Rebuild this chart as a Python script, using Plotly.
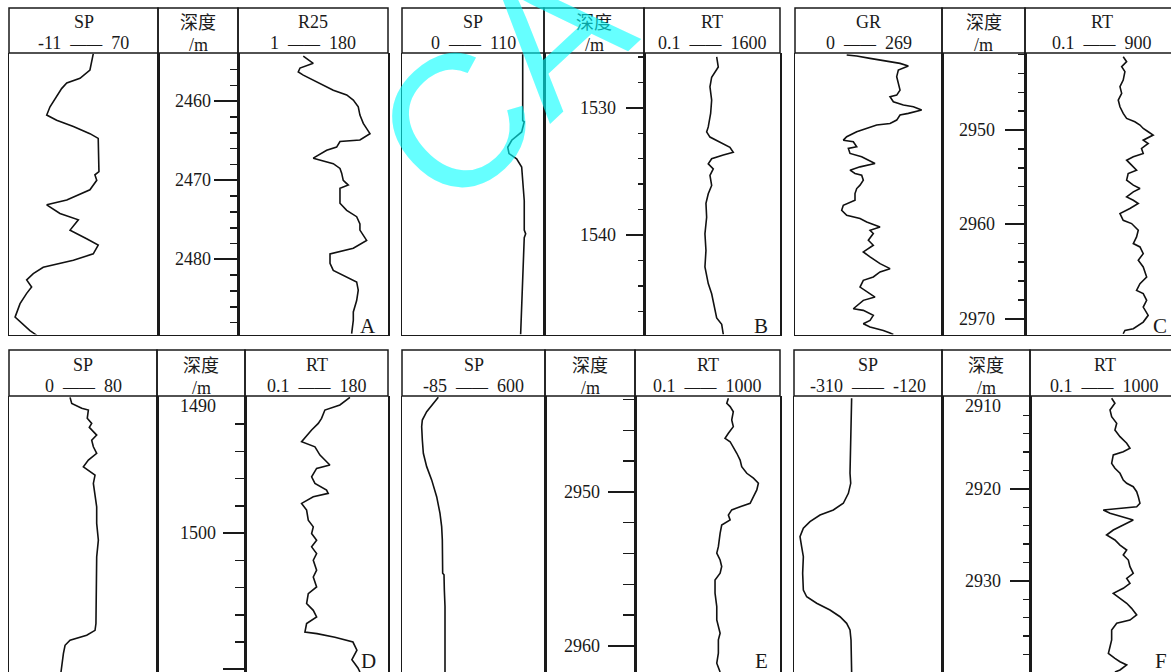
import plotly.graph_objects as go

# ---------------- data ----------------
# Panel A
A_SP_scale = (-11, 70)
A_SP_depth = [2454.0, 2456.05, 2457.1, 2457.7, 2458.4, 2459.4, 2460.7, 2461.75, 2462.4, 2463.2,
              2464.1, 2464.7, 2467.0, 2468.9, 2469.3, 2470.0, 2471.2, 2472.5, 2473.1, 2474.2,
              2475.0, 2476.3, 2477.4, 2478.2, 2479.3, 2480.1, 2481.0, 2481.8, 2482.6, 2483.5,
              2484.3, 2485.6, 2487.3, 2488.1, 2489.0, 2489.6]
A_SP = [34.8, 33.0, 27.6, 20.4, 17.6, 14.9, 11.3, 9.5, 14.9, 24.0,
        33.0, 37.5, 37.9, 37.9, 35.7, 36.7, 33.0, 20.4, 9.5, 16.7,
        26.7, 22.2, 31.2, 37.5, 34.8, 24.0, 7.6, 2.2, -1.4, 1.3,
        -1.4, -5.0, -7.7, -4.1, 0.4, 4.1]
A_R25_scale = (1, 180)
A_R25_depth = [2454.3, 2455.2, 2455.8, 2456.3, 2456.7, 2457.7, 2458.6, 2459.2, 2459.85, 2460.7,
               2461.75, 2462.8, 2464.1, 2464.9, 2465.1, 2465.8, 2466.2, 2467.2, 2467.9, 2468.5,
               2469.1, 2470.0, 2470.6, 2471.0, 2471.7, 2472.9, 2473.8, 2474.6, 2475.5, 2476.3,
               2477.6, 2478.6, 2479.3, 2480.5, 2481.4, 2482.2, 2482.85, 2483.9, 2485.2, 2486.65,
               2487.7, 2489.4]
A_R25 = [78.9, 90.8, 75.0, 72.9, 78.9, 98.8, 114.7, 130.7, 138.6, 144.5,
         146.5, 150.5, 158.5, 146.5, 122.7, 118.7, 106.8, 90.8, 114.7, 122.7,
         124.7, 126.6, 132.6, 122.7, 122.7, 122.7, 130.7, 142.6, 146.5, 146.5,
         154.5, 138.6, 110.8, 110.8, 114.7, 130.7, 142.6, 144.5, 142.6, 138.6,
         138.6, 136.6]
A_depth_labels = [2460, 2470, 2480]

# Panel B
B_SP_scale = (0, 110)
B_SP_depth = [1525.8, 1528.6, 1531.0, 1531.1, 1531.9, 1532.55, 1533.1, 1533.6, 1534.0, 1534.65,
              1535.45, 1537.3, 1539.6, 1539.9, 1540.2, 1542.5, 1545.15, 1547.8]
B_SP = [93.5, 93.5, 93.5, 94.7, 92.7, 85.0, 81.9, 82.9, 88.8, 92.7,
        93.2, 94.7, 94.7, 95.8, 94.7, 94.0, 92.7, 91.9]
B_RT_scale = (0.1, 1600)
B_RT_depth = [1526.0, 1526.8, 1527.6, 1528.35, 1529.4, 1530.45, 1531.5, 1531.9, 1532.3, 1532.7,
              1533.1, 1533.5, 1533.7, 1534.0, 1534.4, 1534.8, 1535.3, 1536.1, 1536.75, 1537.5,
              1538.6, 1539.9, 1541.2, 1542.5, 1543.8, 1544.6, 1545.7, 1546.5, 1547.0, 1547.8]
B_RT = [855, 874, 796, 776, 796, 784, 756, 737, 776, 894,
        1011, 1050, 933, 796, 756, 815, 776, 796, 756, 729,
        737, 717, 729, 717, 756, 796, 835, 855, 914, 933]
B_depth_labels = [1530, 1540]

# Panel C
C_GR_scale = (0, 269)
C_GR_depth = [2942.04, 2942.15, 2942.4, 2942.57, 2942.93, 2943.21, 2943.63, 2944.34, 2945.05, 2945.76,
              2946.29, 2946.47, 2947.0, 2947.35, 2947.53, 2947.88, 2948.23, 2948.41, 2948.94, 2949.3,
              2949.47, 2949.83, 2950.18, 2950.71, 2951.07, 2951.24, 2951.77, 2951.95, 2952.48, 2952.83,
              2953.54, 2953.9, 2954.25, 2954.6, 2954.78, 2955.31, 2955.84, 2956.2, 2956.73, 2957.44,
              2957.97, 2958.5, 2959.03, 2959.38, 2959.74, 2960.27, 2960.62, 2960.97, 2961.68, 2962.21,
              2962.92, 2963.45, 2964.16, 2964.69, 2965.04, 2965.57, 2965.93, 2966.64, 2967.34, 2967.7,
              2968.05, 2968.94, 2969.11, 2969.64, 2970.17, 2970.53, 2970.88, 2971.24, 2971.52, 2971.67]
C_GR = [94.6, 112.9, 137.3, 155.6, 192.2, 207.4, 189.1, 186.1, 189.1, 192.2,
        186.1, 173.9, 180.0, 198.3, 216.6, 231.8, 207.4, 192.2, 186.1, 173.9,
        149.5, 131.2, 112.9, 94.6, 88.4, 106.7, 112.9, 97.6, 100.7, 122.0,
        146.4, 119.0, 100.7, 109.8, 122.0, 125.0, 119.0, 112.9, 109.8, 109.8,
        88.4, 85.4, 94.6, 119.0, 131.2, 155.6, 137.3, 143.3, 134.2, 143.3,
        125.0, 137.3, 155.6, 173.9, 155.6, 143.3, 125.0, 119.0, 137.3, 146.4,
        125.0, 106.7, 125.0, 143.3, 137.3, 125.0, 137.3, 161.6, 173.9, 180.0]
C_RT_scale = (0.1, 900)
C_RT_depth = [2942.22, 2942.75, 2943.28, 2943.81, 2944.7, 2945.4, 2946.11, 2946.82, 2947.53, 2948.23,
              2948.77, 2949.12, 2949.47, 2949.83, 2950.18, 2950.53, 2951.07, 2951.42, 2951.95, 2952.48,
              2952.83, 2953.19, 2953.72, 2954.25, 2954.6, 2955.31, 2955.84, 2956.2, 2956.55, 2957.08,
              2957.44, 2957.79, 2958.32, 2958.85, 2959.56, 2959.91, 2960.62, 2961.33, 2962.03, 2962.39,
              2963.1, 2963.8, 2964.51, 2965.57, 2966.28, 2966.99, 2967.34, 2968.05, 2968.76, 2969.64,
              2970.35, 2970.7, 2971.06, 2971.24, 2971.59]
C_RT = [574, 594, 565, 584, 574, 555, 565, 545, 555, 574,
        594, 642, 672, 691, 720, 749, 691, 720, 681, 691,
        633, 594, 623, 652, 603, 594, 633, 672, 633, 594,
        633, 662, 613, 555, 574, 623, 662, 652, 633, 672,
        691, 662, 691, 711, 672, 652, 691, 711, 691, 720,
        691, 662, 633, 584, 574]
C_depth_labels = [2950, 2960, 2970]

# Panel D
D_SP_scale = (0, 80)
D_SP_depth = [1490.03, 1490.47, 1490.83, 1490.96, 1491.57, 1491.94, 1492.23, 1492.8, 1493.17, 1493.66,
              1494.14, 1494.64, 1495.13, 1495.5, 1495.74, 1496.35, 1497.08, 1498.07, 1499.29, 1500.52,
              1501.75, 1502.97, 1504.19, 1505.42, 1506.64, 1507.14, 1507.5, 1507.87, 1508.24, 1508.85,
              1509.58, 1510.2]
D_SP = [33.0, 33.9, 39.3, 42.9, 42.3, 44.7, 43.4, 47.4, 44.7, 45.6,
        47.4, 42.9, 40.2, 43.8, 46.5, 45.6, 46.5, 47.4, 47.4, 48.3,
        47.4, 47.4, 47.4, 47.4, 47.0, 46.5, 42.0, 33.0, 30.3, 29.4,
        28.5, 28.1]
D_RT_scale = (0.1, 180)
D_RT_depth = [1490.03, 1490.59, 1490.96, 1491.57, 1491.94, 1492.43, 1493.29, 1493.66, 1494.27, 1495.0,
              1495.25, 1495.86, 1496.35, 1496.84, 1497.08, 1497.33, 1497.82, 1498.31, 1499.05, 1499.54,
              1500.03, 1500.52, 1501.01, 1501.5, 1501.99, 1502.72, 1503.22, 1503.95, 1504.44, 1505.17,
              1505.67, 1506.16, 1506.64, 1507.26, 1507.38, 1507.65, 1508.0, 1508.6, 1509.3, 1509.9,
              1510.2]
D_RT = [132.1, 119.5, 100.6, 96.4, 92.3, 83.9, 71.3, 88.1, 94.4, 106.9,
        90.2, 83.9, 88.1, 102.7, 104.8, 86.0, 71.3, 77.6, 79.7, 86.0,
        83.9, 90.2, 83.9, 90.2, 86.0, 90.2, 86.0, 90.2, 79.7, 77.6,
        86.0, 90.2, 77.6, 75.5, 90.6, 113.2, 135.9, 140.9, 134.6, 142.2,
        144.7]
D_depth_labels = [1490, 1500]

# Panel E
E_SP_scale = (-85, 600)
E_SP_depth = [2943.85, 2944.35, 2944.79, 2945.33, 2945.76, 2946.63, 2947.49, 2948.36, 2949.22, 2950.31,
              2951.39, 2952.26, 2953.12, 2955.28, 2955.39, 2956.37, 2957.45, 2959.61, 2961.7]
E_SP = [89.0, 57.1, 33.2, 12.4, 9.2, 12.4, 17.2, 33.2, 57.1, 81.1,
        97.0, 105.0, 108.2, 109.8, 116.2, 117.8, 121.0, 121.0, 121.0]
E_RT_scale = (0.1, 1000)
E_RT_depth = [2943.92, 2944.24, 2944.46, 2944.79, 2945.33, 2945.76, 2946.19, 2946.52, 2946.74, 2947.06,
              2947.49, 2947.93, 2948.36, 2948.79, 2949.11, 2949.44, 2949.87, 2950.31, 2950.74, 2950.96,
              2951.17, 2951.5, 2951.82, 2952.15, 2952.69, 2953.56, 2953.98, 2954.42, 2954.85, 2955.28,
              2955.72, 2956.58, 2957.45, 2958.32, 2959.18, 2959.61, 2960.48, 2961.13, 2961.7]
E_RT = [644, 633, 656, 678, 667, 678, 644, 621, 656, 678,
        702, 725, 736, 771, 817, 851, 840, 817, 794, 725,
        667, 644, 656, 598, 587, 575, 564, 587, 598, 587,
        552, 552, 564, 564, 587, 575, 575, 564, 587]
E_depth_labels = [2950, 2960]

# Panel F
F_SP_scale = (-310, -120)
F_SP_depth = [2910.15, 2912.87, 2915.77, 2918.3, 2919.39, 2920.48, 2921.56, 2922.29, 2922.83, 2923.56,
              2924.28, 2925.19, 2926.28, 2927.37, 2929.17, 2930.99, 2931.72, 2932.43, 2933.16, 2933.89,
              2934.61, 2935.33, 2936.42, 2938.24, 2939.9]
F_SP = [-236.0, -236.8, -238.1, -238.1, -237.2, -240.2, -246.7, -259.5, -276.6, -289.5,
        -298.0, -302.3, -300.2, -298.0, -298.9, -298.0, -293.7, -280.9, -263.8, -250.9,
        -242.4, -238.1, -236.8, -236.0, -236.0]
F_RT_scale = (0.1, 1000)
F_RT_depth = [2910.15, 2910.69, 2911.42, 2912.15, 2912.87, 2913.6, 2914.32, 2915.04, 2915.58, 2915.95,
              2916.31, 2917.22, 2917.76, 2918.3, 2919.03, 2919.39, 2919.76, 2920.3, 2920.85, 2921.56,
              2921.93, 2922.11, 2922.29, 2922.65, 2923.02, 2923.38, 2923.92, 2924.47, 2925.01, 2925.55,
              2926.1, 2926.64, 2927.18, 2927.73, 2928.45, 2929.17, 2929.72, 2930.26, 2930.8, 2931.35,
              2931.89, 2932.43, 2932.98, 2933.7, 2934.25, 2934.61, 2935.33, 2936.42, 2937.15, 2937.87,
              2938.41, 2938.78, 2939.14, 2939.68, 2939.9]
F_RT = [548, 570, 537, 548, 582, 570, 604, 649, 671, 626,
        559, 548, 570, 604, 626, 649, 693, 716, 727, 738,
        716, 604, 492, 537, 626, 693, 626, 559, 514, 570,
        604, 649, 626, 660, 671, 693, 649, 671, 626, 559,
        604, 649, 682, 716, 671, 582, 548, 548, 537, 526,
        570, 604, 649, 604, 570]
F_depth_labels = [2910, 2920, 2930]

WATERMARK = "CA"

# ---------------- layout geometry ----------------
W, H = 1171, 672
ROWS = [dict(top=8, head=53, bot=334.5, letter_y=326),
        dict(top=350, head=396, bot=672, letter_y=660.5)]
SERIF = "Liberation Serif, 'Noto Sans CJK SC', serif"
INK = "#1a1a1a"

panels = [
    dict(letter="A", row=0, edges=(9, 158, 238, 388), depth=(2453.9, 2489.5), ticklen=(24, 8), labgap=25,
         labels=A_depth_labels, left=("SP", A_SP_scale, A_SP_depth, A_SP),
         right=("R25", A_R25_scale, A_R25_depth, A_R25)),
    dict(letter="B", row=0, edges=(402, 544, 644, 780), depth=(1525.7, 1547.8), ticklen=(18, 6), labgap=26,
         labels=B_depth_labels, left=("SP", B_SP_scale, B_SP_depth, B_SP),
         right=("RT", B_RT_scale, B_RT_depth, B_RT)),
    dict(letter="C", row=0, edges=(795, 942, 1025, 1179), depth=(2941.83, 2971.67), ticklen=(20, 7), labgap=28,
         labels=C_depth_labels, left=("GR", C_GR_scale, C_GR_depth, C_GR),
         right=("RT", C_RT_scale, C_RT_depth, C_RT)),
    dict(letter="D", row=1, edges=(9, 157, 245, 388), depth=(1489.93, 1510.2), ticklen=(22, 10), labgap=27,
         labels=D_depth_labels, left=("SP", D_SP_scale, D_SP_depth, D_SP),
         right=("RT", D_RT_scale, D_RT_depth, D_RT)),
    dict(letter="E", row=1, edges=(402, 545, 635, 780), depth=(2943.77, 2961.7), ticklen=(27, 12), labgap=33,
         labels=E_depth_labels, left=("SP", E_SP_scale, E_SP_depth, E_SP),
         right=("RT", E_RT_scale, E_RT_depth, E_RT)),
    dict(letter="F", row=1, edges=(794, 942, 1030, 1179), depth=(2909.9, 2939.9), ticklen=(20, 7), labgap=27,
         labels=F_depth_labels, left=("SP", F_SP_scale, F_SP_depth, F_SP),
         right=("RT", F_RT_scale, F_RT_depth, F_RT)),
]


def fmt(v):
    return f"{v:g}"


def font(size=18, family=SERIF, color=INK):
    return dict(family=family, size=size, color=color)


def paper_text(text, px, py, size=18, xanchor="center"):
    return dict(text=text, x=px / W, y=1 - py / H, xref="paper", yref="paper",
                xanchor=xanchor, yanchor="middle", showarrow=False, font=font(size))


fig = go.Figure()
layout = dict(width=W, height=H, margin=dict(l=0, r=0, t=0, b=0, pad=0), paper_bgcolor="white",
              plot_bgcolor="white", showlegend=False)
shapes, annotations = [], []

for i, p in enumerate(panels):
    r = ROWS[p["row"]]
    L, d1, d2, R = p["edges"]
    ytop, ybot = p["depth"]
    tracks = [(L, d1, "curve", p["left"]), (d1, d2, "depth", None), (d2, R, "curve", p["right"])]
    for j, (x0, x1, kind, cur) in enumerate(tracks):
        k = 3 * i + j + 1
        sfx = "" if k == 1 else str(k)
        vx1 = min(x1, W)
        xdom = [x0 / W, vx1 / W]
        ydom = [1 - r["bot"] / H, 1 - r["head"] / H]
        if kind == "curve":
            name, (lo, hi), dep, val = cur
            frac = (vx1 - x0) / (x1 - x0)
            xr = [lo, lo + (hi - lo) * frac]
        else:
            xr = [0, 1]
        layout["xaxis" + sfx] = dict(domain=xdom, range=xr, anchor="y" + sfx, showgrid=False,
                                     zeroline=False, showticklabels=False, ticks="",
                                     showline=(p["row"] == 0), linecolor=INK, linewidth=1.5,
                                     fixedrange=True)
        ycfg = dict(domain=ydom, range=[ybot, ytop], anchor="x" + sfx, showgrid=False, zeroline=False,
                    showticklabels=False, showline=True, linecolor=INK, linewidth=1.5,
                    mirror=(x1 <= W), fixedrange=True)
        if kind == "depth":
            ycfg.update(side="right", ticks="inside", ticklen=p["ticklen"][0], tickwidth=2,
                        tickcolor=INK, tick0=0, dtick=10,
                        minor=dict(ticks="inside", ticklen=p["ticklen"][1], tickwidth=1.5,
                                   tickcolor=INK, tick0=0, dtick=2, showgrid=False))
        else:
            ycfg["ticks"] = ""
        layout["yaxis" + sfx] = ycfg

        # header box
        shapes.append(dict(type="rect", xref="paper", yref="paper", x0=x0 / W, x1=x1 / W,
                           y0=1 - r["head"] / H, y1=1 - r["top"] / H,
                           line=dict(color=INK, width=1.5), layer="above"))
        cx = (x0 + x1) / 2
        if kind == "curve":
            fig.add_trace(go.Scatter(x=val, y=dep, xaxis="x" + sfx, yaxis="y" + sfx, mode="lines",
                                     line=dict(color="#111111", width=1.6), hoverinfo="skip"))
            annotations.append(paper_text(name, cx, r["head"] - 31))
            scale_txt = (fmt(lo) + "\u00a0\u00a0<span style='font-size:16px'>——</span>\u00a0\u00a0"
                         + fmt(hi))
            annotations.append(paper_text(scale_txt, cx, r["head"] - 10.5))
        else:
            annotations.append(paper_text("深度", cx, r["head"] - 30))
            annotations.append(paper_text("/m", cx, r["head"] - 8.5))
            for v in p["labels"]:
                annotations.append(dict(text=str(v), x=(d2 - p["labgap"]) / W, xref="paper",
                                        xanchor="right", y=v, yref="y" + sfx, yanchor="middle",
                                        yshift=(-9 if v - ytop < 1 else 0),
                                        showarrow=False, font=font()))
    # panel letter
    annotations.append(paper_text(p["letter"], R - 10, r["letter_y"], size=21, xanchor="right"))

# watermark
annotations.append(dict(text=WATERMARK, x=502 / W, y=1 - 80 / H, xref="paper", yref="paper",
                        textangle=-43, showarrow=False, xanchor="center", yanchor="middle",
                        font=dict(family="Liberation Sans, Arial, sans-serif", size=188,
                                  color="rgba(0,255,255,0.6)")))

layout["shapes"] = shapes
layout["annotations"] = annotations
fig.update_layout(**layout)
fig.write_html("out.html", config={"displayModeBar": False, "staticPlot": True},
               post_script="document.body.style.margin='0';document.body.style.overflow='hidden';")
